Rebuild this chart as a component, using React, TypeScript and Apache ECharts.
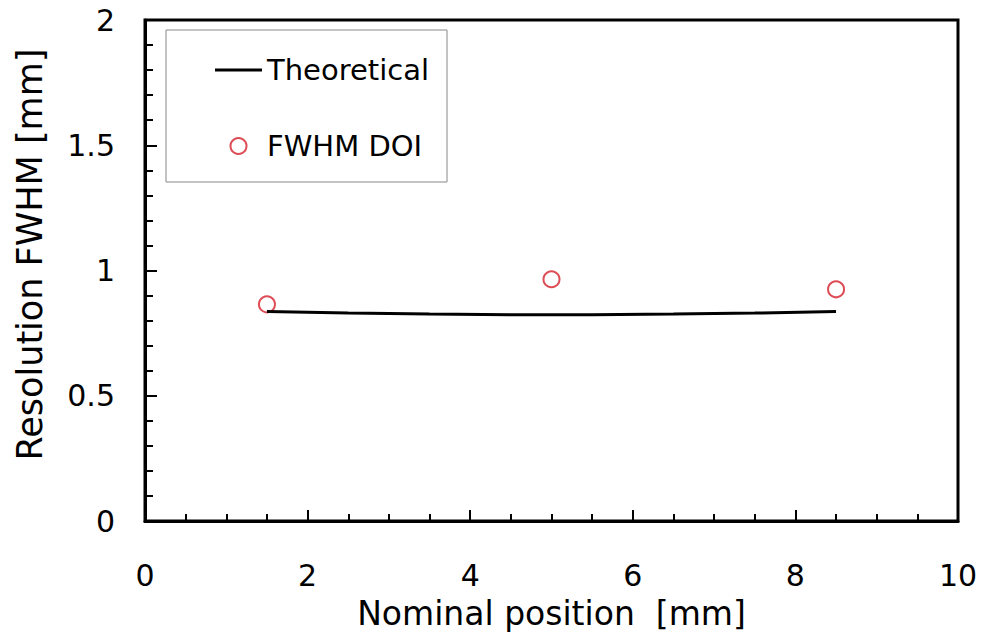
import React, { useEffect, useRef } from "react";
import * as echarts from "echarts";

const theoreticalX = [1.5, 2.5, 3.5, 4.5, 5.5, 6.5, 7.5, 8.5];
const theoreticalY = [0.836, 0.830, 0.826, 0.823, 0.823, 0.826, 0.830, 0.836];
const doiX = [1.5, 5, 8.5];
const doiY = [0.865, 0.965, 0.925];

const FONT = "DejaVu Sans";

export default function App() {
  const ref = useRef<HTMLDivElement>(null);
  useEffect(() => {
    if (!ref.current) return;
    const chart = echarts.init(ref.current, null, { renderer: "svg" });
    chart.setOption({
      animation: false,
      backgroundColor: "#fff",
      textStyle: { fontFamily: FONT, color: "#000" },
      grid: {
        left: 145,
        top: 20,
        right: 26,
        bottom: 118,
        show: true,
        borderColor: "#000",
        borderWidth: 3,
        backgroundColor: "transparent",
      },
      legend: {
        left: 166,
        top: 30,
        orient: "vertical",
        padding: [22, 18, 18, 49],
        itemWidth: 47,
        itemHeight: 16,
        itemGap: 40,
        borderColor: "#888",
        borderWidth: 1,
        backgroundColor: "#fff",
        textStyle: { fontFamily: FONT, fontSize: 29, color: "#000", lineHeight: 36 },
        data: [
          { name: "Theoretical", icon: "path://M0,0 H47 V3 H0 Z", itemStyle: { color: "#000" } },
          { name: "FWHM DOI" },
        ],
      },
      xAxis: {
        type: "value",
        min: 0,
        max: 10,
        interval: 2,
        name: "Nominal position  [mm]",
        nameLocation: "middle",
        nameGap: 76,
        nameTextStyle: { fontFamily: FONT, fontSize: 33, color: "#000" },
        axisLine: { show: true, lineStyle: { color: "#000", width: 3 } },
        axisTick: { show: true, inside: true, length: 11, lineStyle: { color: "#000", width: 2 } },
        minorTick: { show: true, splitNumber: 4, length: 7, lineStyle: { color: "#000", width: 2 } },
        splitLine: { show: false },
        minorSplitLine: { show: false },
        axisLabel: { fontFamily: FONT, fontSize: 30, color: "#000", margin: 39 },
      },
      yAxis: {
        type: "value",
        min: 0,
        max: 2,
        interval: 0.5,
        name: "Resolution FWHM [mm]",
        nameLocation: "middle",
        nameGap: 98,
        nameTextStyle: { fontFamily: FONT, fontSize: 35, color: "#000", padding: [0, 0, 0, 32] },
        axisLine: { show: true, lineStyle: { color: "#000", width: 3 } },
        axisTick: { show: true, inside: true, length: 12, lineStyle: { color: "#000", width: 2 } },
        minorTick: { show: true, splitNumber: 5, length: 8, lineStyle: { color: "#000", width: 2 } },
        splitLine: { show: false },
        minorSplitLine: { show: false },
        axisLabel: { fontFamily: FONT, fontSize: 30, color: "#000", margin: 30 },
      },
      series: [
        {
          name: "Theoretical",
          type: "line",
          symbol: "none",
          lineStyle: { color: "#000", width: 3 },
          itemStyle: { color: "#000" },
          data: theoreticalX.map((x, i) => [x, theoreticalY[i]]),
        },
        {
          name: "FWHM DOI",
          type: "scatter",
          symbol: "circle",
          symbolSize: 16,
          itemStyle: { color: "rgba(0,0,0,0)", borderColor: "#d61f2a", borderWidth: 2 },
          data: doiX.map((x, i) => [x, doiY[i]]),
        },
      ],
    });
    return () => chart.dispose();
  }, []);
  return (
    <div
      ref={ref}
      style={{ position: "absolute", left: 0, top: 0, width: 984, height: 639 }}
    />
  );
}
